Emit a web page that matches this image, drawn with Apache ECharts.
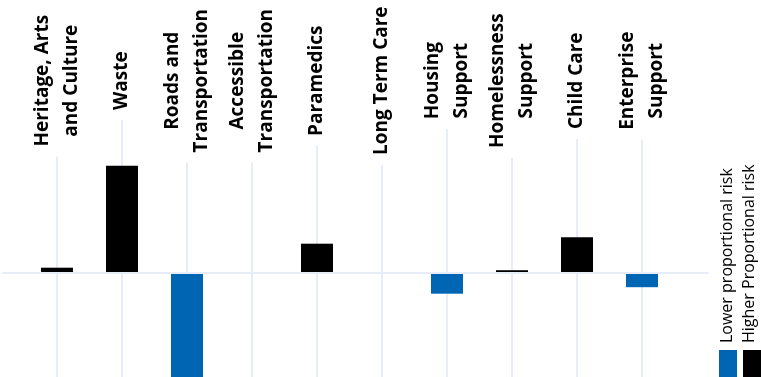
<!DOCTYPE html>
<html>
<head>
<meta charset="utf-8">
<script src="https://cdn.jsdelivr.net/npm/echarts@6/dist/echarts.min.js"></script>
<style>
  html, body { margin: 0; padding: 0; background: #fff; }
  #chart { width: 761px; height: 377px; }
</style>
</head>
<body>
<div id="chart"></div>
<script>
// categories, read left to right
const categories = [
  'Heritage, Arts\nand Culture',
  'Waste',
  'Roads and\nTransportation',
  'Accessible\nTransportation',
  'Paramedics',
  'Long Term Care',
  'Housing\nSupport',
  'Homelessness\nSupport',
  'Child Care',
  'Enterprise\nSupport'
]

// higher proportional risk (black, above zero)
const higherRisk = [0.5, 10.7, null, null, 2.9, null, null, 0.25, 3.55, null]
// lower proportional risk (blue, below zero)
const lowerRisk = [null, null, -11.5, null, null, null, -2.1, null, null, -1.45]

const legendNames = ['Lower proportional risk', 'Higher Proportional risk']

const BLUE = '#0066b3'
const BLACK = '#000000'
const GRID_LINE = '#e6edf8'
const Y_MIN = -13
const Y_MAX = 27

const chart = echarts.init(document.getElementById('chart'), null, { renderer: 'canvas' })

const option = {
  animation: false,
  backgroundColor: '#fff',
  grid: [
    // wide grid only carries the zero line
    { left: 3, right: 53, top: 2.7, height: 400, outerBoundsMode: 'none' },
    // bars + category labels
    { left: 24.5, right: 86.5, top: 2.7, height: 400, outerBoundsMode: 'none' }
  ],
  xAxis: [
    {
      gridIndex: 0,
      type: 'value',
      min: 0,
      max: 1,
      z: 3,
      axisLine: { show: true, onZero: true, lineStyle: { color: GRID_LINE, width: 2 } },
      axisTick: { show: false },
      axisLabel: { show: false },
      splitLine: { show: false }
    },
    {
      // category labels, sideways
      gridIndex: 1,
      type: 'category',
      position: 'top',
      z: 1,
      data: categories,
      axisLine: { show: false },
      axisTick: { show: false },
      axisLabel: {
        inside: true,
        interval: 0,
        rotate: 90,
        margin: 33,
        align: 'center',
        verticalAlign: 'middle',
        fontFamily: 'Open Sans',
        fontWeight: 'bold',
        fontSize: 19,
        lineHeight: 29,
        color: '#000',
        // white box hides the grid line above / behind the label
        backgroundColor: '#fff',
        padding: [0, 100, 10, 10]
      },
      splitLine: { show: false }
    },
    {
      // vertical grid lines through each category, drawn as long ticks
      gridIndex: 1,
      type: 'category',
      position: 'bottom',
      z: 0,
      data: categories,
      axisLine: { show: false, onZero: false },
      axisTick: {
        show: true,
        interval: 0,
        alignWithLabel: true,
        inside: true,
        length: 400,
        lineStyle: { color: GRID_LINE, width: 2 }
      },
      axisLabel: { show: false, interval: 0 },
      splitLine: { show: false }
    }
  ],
  yAxis: [
    { gridIndex: 0, type: 'value', min: Y_MIN, max: Y_MAX, show: false },
    { gridIndex: 1, type: 'value', min: Y_MIN, max: Y_MAX, show: false }
  ],
  series: [
    {
      name: legendNames[0],
      type: 'bar',
      xAxisIndex: 1,
      yAxisIndex: 1,
      data: lowerRisk,
      barWidth: 32,
      barGap: '-100%',
      itemStyle: { color: BLUE }
    },
    {
      name: legendNames[1],
      type: 'bar',
      xAxisIndex: 1,
      yAxisIndex: 1,
      data: higherRisk,
      barWidth: 32,
      barGap: '-100%',
      itemStyle: { color: BLACK }
    }
  ],
  // legend is drawn sideways, so build it by hand
  graphic: [
    { type: 'rect', x: 719, y: 350, shape: { width: 18, height: 30 }, style: { fill: BLUE } },
    { type: 'rect', x: 743, y: 350, shape: { width: 18, height: 30 }, style: { fill: BLACK } },
    {
      type: 'text', x: 727, y: 343, rotation: Math.PI / 2,
      style: { text: legendNames[0], fill: '#000', fontFamily: 'Open Sans', fontSize: 16, align: 'left', verticalAlign: 'middle' }
    },
    {
      type: 'text', x: 749, y: 343, rotation: Math.PI / 2,
      style: { text: legendNames[1], fill: '#000', fontFamily: 'Open Sans', fontSize: 16, align: 'left', verticalAlign: 'middle' }
    }
  ]
}

chart.setOption(option)
</script>
</body>
</html>
